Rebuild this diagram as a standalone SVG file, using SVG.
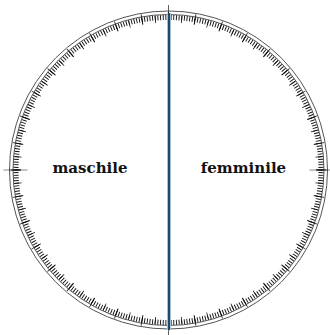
<svg xmlns="http://www.w3.org/2000/svg" width="330" height="335" viewBox="0 0 330 335">
<style>
.ring{fill:none;stroke:#555;stroke-width:1}
.tick{fill:none;stroke:#111}
.lbl{font-family:"DejaVu Serif",serif;font-weight:bold;font-size:15px;fill:#111;text-anchor:middle}
</style>
<rect width="330" height="335" fill="#fff"/>
<g id="dial">
<circle class="ring" cx="168.5" cy="170" r="159" stroke="#666"/>
<circle class="ring" cx="168.5" cy="170" r="155.5" stroke="#333"/>
<circle class="tick" cx="168.5" cy="170" r="152.5" stroke-width="5" pathLength="360" stroke-dasharray="0.35 0.65" stroke-dashoffset="0.175"/>
<circle class="tick" cx="168.5" cy="170" r="151" stroke-width="7" pathLength="360" stroke-dasharray="0.3 4.7" stroke-dashoffset="0.15"/>
<circle class="tick" cx="168.5" cy="170" r="153" stroke-width="10" pathLength="360" stroke-dasharray="0.3 9.7" stroke-dashoffset="0.15" stroke="#444"/>
<circle class="tick" cx="168.5" cy="170" r="153" stroke-width="24" pathLength="360" stroke-dasharray="0.25 89.75" stroke-dashoffset="0.125" stroke="#888"/>
</g>
<g id="connectors">
<line x1="169" y1="13" x2="169" y2="330" stroke="#a8c0d0" stroke-width="4"/>
<line x1="169" y1="13" x2="169" y2="330" stroke="#1d4a68" stroke-width="2"/>
</g>
<g id="maschile"><text class="lbl" x="90" y="173">maschile</text></g>
<g id="femminile"><text class="lbl" x="243.5" y="173">femminile</text></g>
</svg>
